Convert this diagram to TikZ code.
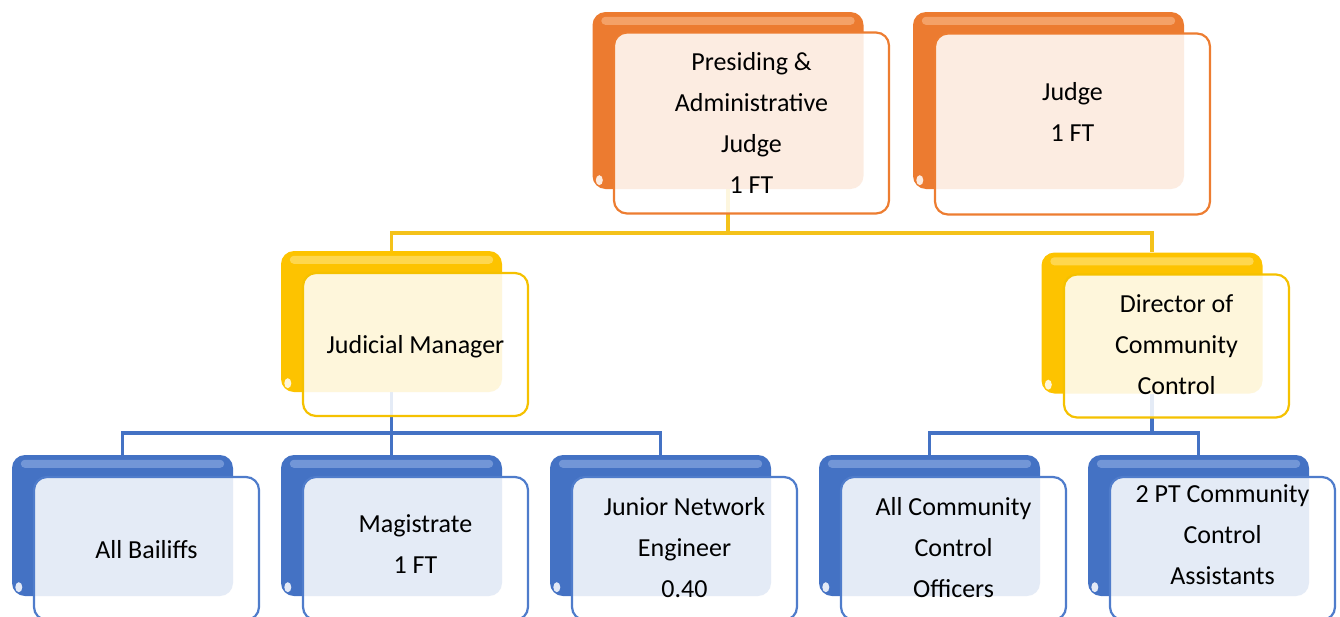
\documentclass[tikz,border=0pt]{standalone}
\usepackage{fontspec}
\setmainfont{Carlito}
\usetikzlibrary{calc}
\pgfdeclarelayer{bg}
\pgfsetlayers{bg,main}

\definecolor{orgOrange}{HTML}{EC7B30}
\definecolor{orgOrangeL}{HTML}{F8B27F}
\definecolor{orgOrangeE}{HTML}{ED7D31}
\definecolor{orgYellow}{HTML}{FDC300}
\definecolor{orgYellowL}{HTML}{FFE070}
\definecolor{orgYellowE}{HTML}{F5C100}
\definecolor{orgBlue}{HTML}{4472C4}
\definecolor{orgBlueL}{HTML}{86A6E0}
\definecolor{orgBlueE}{HTML}{4F7CCB}
\definecolor{connY}{HTML}{F4C21A}
\definecolor{connB}{HTML}{4472C4}

\newcommand{\orgGloss}[2]{%
  \fill[#2, opacity=.7, rounded corners=4pt]
    ([xshift=9pt,yshift=-5pt]#1.north west) rectangle ([xshift=-9pt,yshift=-13pt]#1.north east);
  \fill[white, opacity=.85]
    ([xshift=7pt,yshift=9pt]#1.south west) ellipse (3.5pt and 5pt);
}

\tikzset{
  backbase/.style={rounded corners=13pt, inner sep=0pt},
  backO/.style={backbase, fill=orgOrange},
  backY/.style={backbase, fill=orgYellow},
  backB/.style={backbase, fill=orgBlue},
  frontbase/.style={rounded corners=13pt, line width=2.2pt, fill=white,
    fill opacity=0.86, text opacity=1, inner sep=0pt},
  frontO/.style={frontbase, draw=orgOrangeE},
  frontY/.style={frontbase, draw=orgYellowE},
  frontB/.style={frontbase, draw=orgBlueE},
  topsize/.style={minimum width=271pt, minimum height=177pt},
  topfront/.style={minimum width=275pt, minimum height=181pt},
  lowsize/.style={minimum width=221pt, minimum height=141pt},
  lowfront/.style={minimum width=225pt, minimum height=143pt},
  txt/.style={align=center, font=\fontsize{26}{41}\selectfont, text=black, inner sep=0pt},
  yconn/.style={draw=connY, line width=3.4pt},
  bconn/.style={draw=connB, line width=3.4pt}
}

\begin{document}
\begin{tikzpicture}[x=1pt,y=-1pt]
\useasboundingbox (0,0) rectangle (1340,616);
\clip (0,0) rectangle (1340,616);

% ---- top level (orange)
\node[backO, topsize] (pjb) at (728,100.5) {};
\orgGloss{pjb}{orgOrangeL}
\node[frontO, topfront] (pjf) at (751.5,123) {};
\node[txt] (pjt) at (751.5,122.5) {Presiding \&\\Administrative\\Judge\\1 FT};

\node[backO, topsize] (jdb) at (1048.5,100.5) {};
\orgGloss{jdb}{orgOrangeL}
\node[frontO, topfront] (jdf) at (1072.5,124) {};
\node[txt] (jdt) at (1072.5,111.5) {Judge\\1 FT};

% ---- middle level (yellow)
\node[backY, lowsize] (jmb) at (391.5,321.5) {};
\orgGloss{jmb}{orgYellowL}
\node[frontY, lowfront] (jmf) at (415.5,344.5) {};
\node[txt] (jmt) at (415.5,347) {Judicial Manager};

\node[backY, lowsize] (dirb) at (1152,323) {};
\orgGloss{dirb}{orgYellowL}
\node[frontY, lowfront] (dirf) at (1176.5,346) {};
\node[txt] (dirt) at (1176.5,345) {Director of\\Community\\Control};

% ---- bottom level (blue)
\node[backB, lowsize] (bailb) at (122.5,525.5) {};
\orgGloss{bailb}{orgBlueL}
\node[frontB, lowfront] (bailf) at (146.5,548.5) {};
\node[txt] (bailt) at (146.5,550) {All Bailiffs};

\node[backB, lowsize] (magb) at (391.5,525.5) {};
\orgGloss{magb}{orgBlueL}
\node[frontB, lowfront] (magf) at (415.5,548.5) {};
\node[txt] (magt) at (415.5,544) {Magistrate\\1 FT};

\node[backB, lowsize] (junb) at (660.5,525.5) {};
\orgGloss{junb}{orgBlueL}
\node[frontB, lowfront] (junf) at (684.5,548.5) {};
\node[txt] (junt) at (684.5,547.5) {Junior Network\\Engineer\\0.40};

\node[backB, lowsize] (cob) at (929.5,525.5) {};
\orgGloss{cob}{orgBlueL}
\node[frontB, lowfront] (cof) at (953.5,548.5) {};
\node[txt] (cot) at (953.5,547.5) {All Community\\Control\\Officers};

\node[backB, lowsize] (ptb) at (1198.5,525.5) {};
\orgGloss{ptb}{orgBlueL}
\node[frontB, lowfront] (ptf) at (1222.5,548.5) {};
\node[txt] (ptt) at (1222.5,534.5) {2 PT Community\\Control\\Assistants};

% ---- connectors (behind the boxes)
\begin{pgfonlayer}{bg}
\coordinate (ylev) at (0,233);
\coordinate (blev) at (0,433);
\draw[yconn] (pjb.south) -- (pjb.south |- ylev) -| (jmb.north);
\draw[yconn] (pjb.south |- ylev) -| (dirb.north);
\draw[bconn] (jmb.south) -- (magb.north);
\draw[bconn] (bailb.north) |- (junb.north |- blev) -- (junb.north);
\draw[bconn] (dirb.south) -- (dirb.south |- blev);
\draw[bconn] (cob.north) |- (ptb.north |- blev) -- (ptb.north);
\end{pgfonlayer}
\end{tikzpicture}
\end{document}
